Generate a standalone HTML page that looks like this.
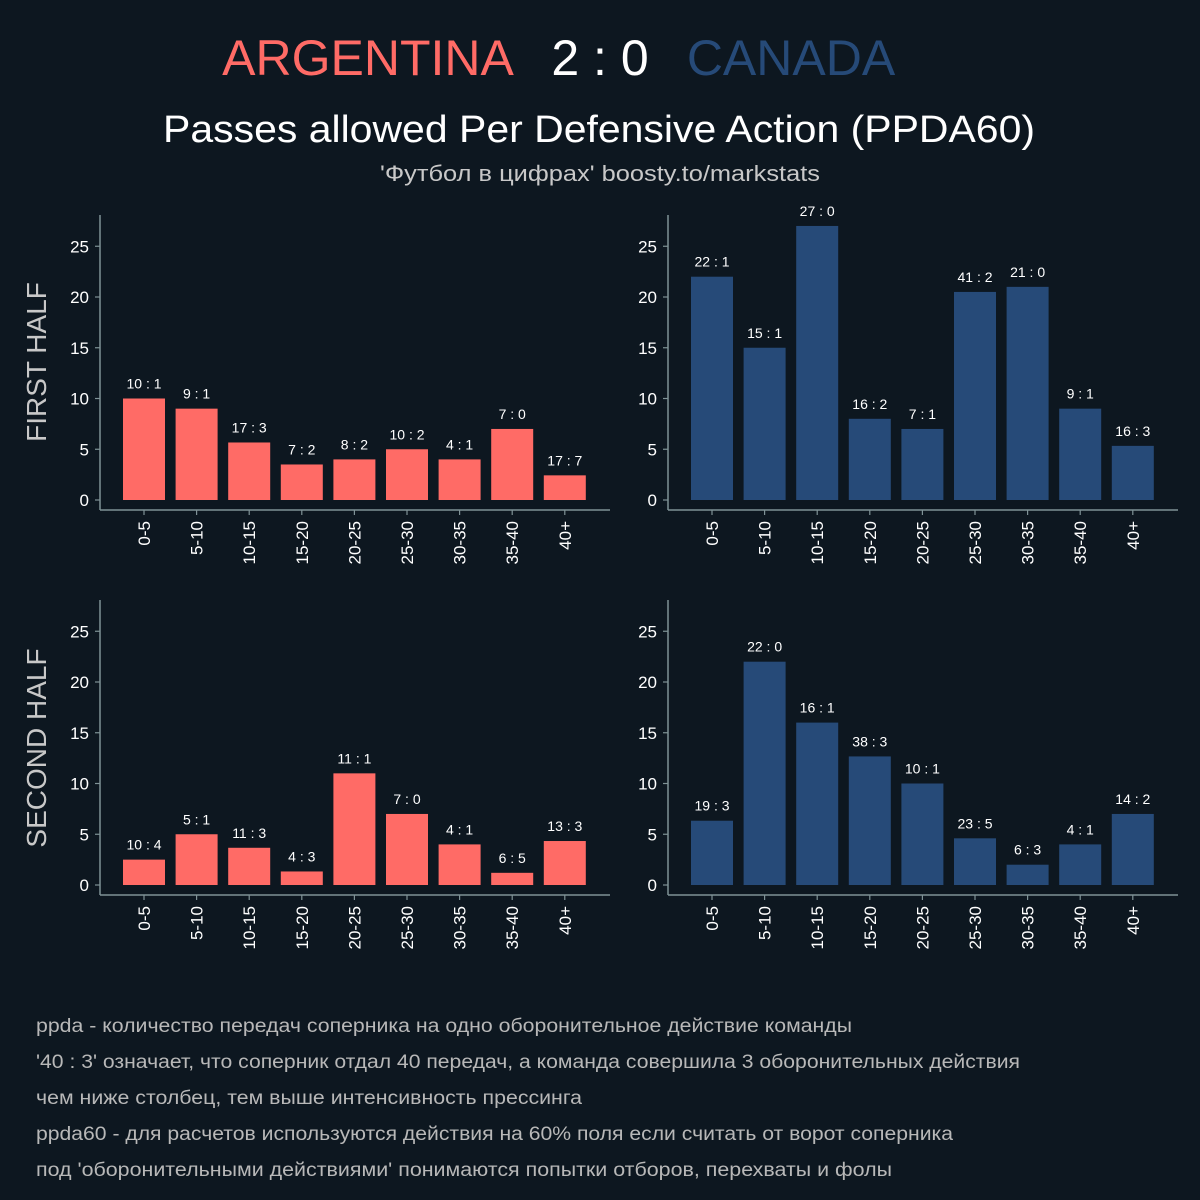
<!DOCTYPE html>
<html><head><meta charset="utf-8"><style>
html,body{margin:0;padding:0;background:#0d1720;}
svg{display:block;font-family:"Liberation Sans","DejaVu Sans",sans-serif;}
</style></head><body>
<svg id="chart" width="1200" height="1200" viewBox="0 0 1200 1200">
<rect width="1200" height="1200" fill="#0d1720"/>
<text x="368" y="75" font-size="50" fill="#ff6b66" text-anchor="middle">ARGENTINA</text>
<text x="600" y="75" font-size="50" fill="#ffffff" text-anchor="middle">2 : 0</text>
<text x="791" y="75" font-size="50" fill="#264a78" text-anchor="middle">CANADA</text>
<text x="163" y="142" font-size="38" fill="#ffffff" textLength="872" lengthAdjust="spacingAndGlyphs">Passes allowed Per Defensive Action (PPDA60)</text>
<text x="380" y="181" font-size="22" fill="#c8c8c8" textLength="440" lengthAdjust="spacingAndGlyphs">'Футбол в цифрах' boosty.to/markstats</text>
<text transform="translate(46,362) rotate(-90)" font-size="28" fill="#c8c8c8" text-anchor="middle">FIRST HALF</text>
<text transform="translate(46,748) rotate(-90)" font-size="28" fill="#c8c8c8" text-anchor="middle">SECOND HALF</text>
<g id="footer" font-size="19" fill="#b8b8b8">
<text x="36" y="1032" textLength="816" lengthAdjust="spacingAndGlyphs">ppda - количество передач соперника на одно оборонительное действие команды</text>
<text x="36" y="1068" textLength="984" lengthAdjust="spacingAndGlyphs">'40 : 3' означает, что соперник отдал 40 передач, а команда совершила 3 оборонительных действия</text>
<text x="36" y="1104" textLength="546" lengthAdjust="spacingAndGlyphs">чем ниже столбец, тем выше интенсивность прессинга</text>
<text x="36" y="1140" textLength="917" lengthAdjust="spacingAndGlyphs">ppda60 - для расчетов используются действия на 60% поля если считать от ворот соперника</text>
<text x="36" y="1176" textLength="856" lengthAdjust="spacingAndGlyphs">под 'оборонительными действиями' понимаются попытки отборов, перехваты и фолы</text>
</g>
</svg>
<script>
const categories = ["0-5","5-10","10-15","15-20","20-25","25-30","30-35","35-40","40+"];
const yTicks = [0,5,10,15,20,25];
const argH1Passes = [10,9,17,7,8,10,4,7,17];
const argH1Actions = [1,1,3,2,2,2,1,0,7];
const canH1Passes = [22,15,27,16,7,41,21,9,16];
const canH1Actions = [1,1,0,2,1,2,0,1,3];
const argH2Passes = [10,5,11,4,11,7,4,6,13];
const argH2Actions = [4,1,3,3,1,0,1,5,3];
const canH2Passes = [19,22,16,38,10,23,6,4,14];
const canH2Actions = [3,0,1,3,1,5,3,1,2];

const svg = document.getElementById('chart');
const NS = 'http://www.w3.org/2000/svg';
function mk(tag, attrs, parent){
  const e = document.createElementNS(NS, tag);
  for (const k in attrs) e.setAttribute(k, attrs[k]);
  parent.appendChild(e);
  return e;
}
function panel(name, x0, y0base, passes, actions, color){
  const g = mk('g', {}, svg);
  
  
  const yScale = v => y0base - v * 10.15;
  const step = 52.6, left = x0 + 44;
  const xScale = i => left + i * step;
  const axisColor = '#7f9296';
  const top = y0base - 285, bottom = y0base + 10, right = x0 + 510;
  const ya = mk('line', {x1:x0, y1:top, x2:x0, y2:bottom, stroke:axisColor, 'stroke-width':1.5}, g);
  
  
  const xa = mk('line', {x1:x0, y1:bottom, x2:right, y2:bottom, stroke:axisColor, 'stroke-width':1.5}, g);
  
  
  yTicks.forEach(t => {
    const y = yScale(t);
    mk('line', {x1:x0-5, y1:y, x2:x0, y2:y, stroke:axisColor, 'stroke-width':1.2}, g);
    const tx = mk('text', {x:x0-11, y:y+6, 'font-size':17, fill:'#ffffff', 'text-anchor':'end'}, g);
    tx.textContent = t;
    
    
  });
  categories.forEach((c, i) => {
    const v = passes[i] / Math.max(actions[i], 1);
    const cx = xScale(i);
    const b = mk('rect', {x:cx-21, y:yScale(v), width:42, height:yScale(0)-yScale(v), fill:color}, g);
    
    
    const lb = mk('text', {x:cx, y:yScale(v)-10, 'font-size':14, fill:'#ffffff', 'text-anchor':'middle'}, g);
    lb.textContent = passes[i] + ' : ' + actions[i];
    
    
    mk('line', {x1:cx, y1:bottom, x2:cx, y2:bottom+5, stroke:axisColor, 'stroke-width':1.2}, g);
    const xl = mk('text', {transform:'translate(' + (cx+6) + ',' + (bottom+11) + ') rotate(-90)', 'font-size':17, fill:'#ffffff', 'text-anchor':'end'}, g);
    xl.textContent = c;
    
    
  });
}
panel('argentina-first-half-panel', 100, 500, argH1Passes, argH1Actions, '#ff6b66');
panel('canada-first-half-panel', 668, 500, canH1Passes, canH1Actions, '#264a78');
panel('argentina-second-half-panel', 100, 885, argH2Passes, argH2Actions, '#ff6b66');
panel('canada-second-half-panel', 668, 885, canH2Passes, canH2Actions, '#264a78');
</script>
</body></html>
